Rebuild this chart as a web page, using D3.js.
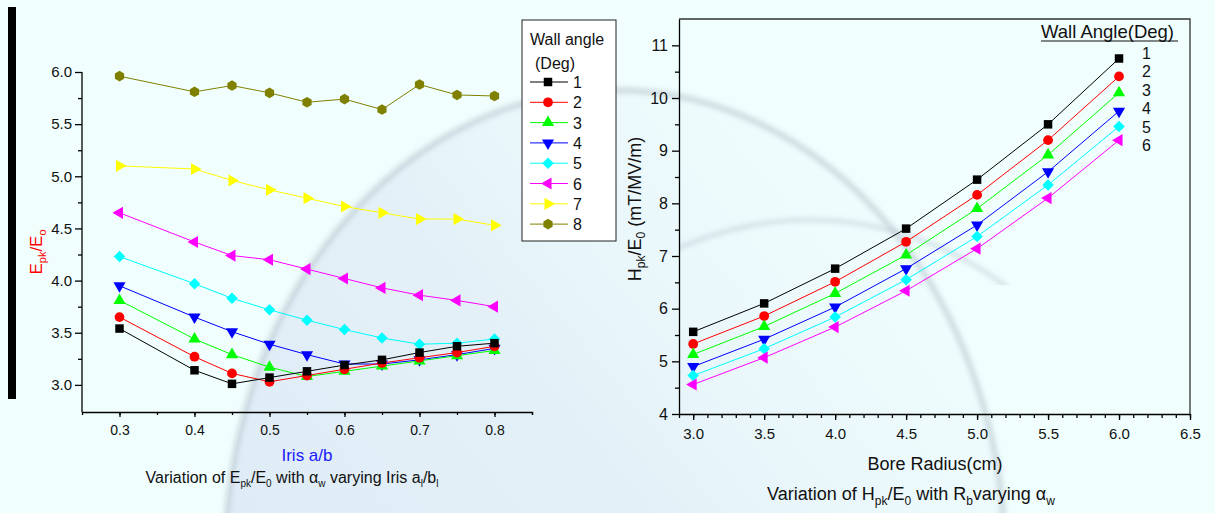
<!DOCTYPE html>
<html>
<head>
<meta charset="utf-8">
<script src="https://cdn.jsdelivr.net/npm/d3@7"></script>
<style>
body { margin: 0; background: #f0fefe; }
svg { display: block; font-family: 'Liberation Sans', Arial, sans-serif; }
</style>
</head>
<body>
<div id="chart"></div>
<script>
// left panel: Epk/E0 vs iris a/b, one series per wall angle
var leftX = [0.3, 0.4, 0.45, 0.5, 0.55, 0.6, 0.65, 0.7, 0.75, 0.8];
var ep1 = [3.54, 3.14, 3.01, 3.07, 3.13, 3.19, 3.24, 3.31, 3.37, 3.40];
var ep2 = [3.65, 3.27, 3.11, 3.03, 3.09, 3.15, 3.21, 3.26, 3.31, 3.37];
var ep3 = [3.81, 3.44, 3.29, 3.17, 3.08, 3.13, 3.18, 3.23, 3.28, 3.33];
var ep4 = [3.95, 3.65, 3.51, 3.39, 3.29, 3.20, 3.20, 3.24, 3.29, 3.35];
var ep5 = [4.23, 3.97, 3.83, 3.72, 3.62, 3.53, 3.45, 3.39, 3.40, 3.44];
var ep6 = [4.65, 4.37, 4.24, 4.20, 4.11, 4.02, 3.93, 3.86, 3.81, 3.75];
var ep7 = [5.10, 5.07, 4.96, 4.87, 4.79, 4.71, 4.65, 4.59, 4.59, 4.53];
var ep8 = [5.96, 5.81, 5.87, 5.80, 5.71, 5.74, 5.64, 5.88, 5.78, 5.77];
var leftNames = ['1', '2', '3', '4', '5', '6', '7', '8'];
var leftXTicks = [0.3, 0.4, 0.5, 0.6, 0.7, 0.8];
var leftYTicks = [3.0, 3.5, 4.0, 4.5, 5.0, 5.5, 6.0];

// right panel: Hpk/E0 vs bore radius
var rightX = [3.0, 3.5, 4.0, 4.5, 5.0, 5.5, 6.0];
var hp1 = [5.56, 6.10, 6.76, 7.52, 8.45, 9.50, 10.75];
var hp2 = [5.33, 5.86, 6.51, 7.27, 8.16, 9.20, 10.41];
var hp3 = [5.13, 5.66, 6.29, 7.02, 7.90, 8.92, 10.10];
var hp4 = [4.90, 5.42, 6.03, 6.76, 7.59, 8.60, 9.75];
var hp5 = [4.73, 5.24, 5.84, 6.55, 7.37, 8.35, 9.46];
var hp6 = [4.56, 5.07, 5.65, 6.34, 7.14, 8.10, 9.20];
var rightNames = ['1', '2', '3', '4', '5', '6'];
var rightXTicks = [3.0, 3.5, 4.0, 4.5, 5.0, 5.5, 6.0, 6.5];
var rightYTicks = [4, 5, 6, 7, 8, 9, 10, 11];

var colors = ['#000000', '#ff0000', '#00ff00', '#0000ff', '#00ffff', '#ff00ff', '#ffff00', '#808000'];
var shapes = ['square', 'circle', 'up', 'down', 'diamond', 'left', 'right', 'hex'];

var W = 1215, H = 513;
var svg = d3.select('#chart').append('svg')
    .attr('width', W)
    .attr('height', H);

// faint background sphere
var defs = svg.append('defs');
defs.append('filter').attr('id', 'blur')
    .append('feGaussianBlur').attr('stdDeviation', 2.5);
defs.append('clipPath').attr('id', 'innerclip')
    .append('rect').attr('x', 680).attr('y', 195).attr('width', 330).attr('height', 90);
var grad = defs.append('linearGradient').attr('id', 'fade')
    .attr('x1', 0).attr('y1', 1).attr('x2', 1).attr('y2', 0);
grad.append('stop').attr('offset', '0%').attr('stop-color', '#d4e2f4').attr('stop-opacity', 0.8);
grad.append('stop').attr('offset', '55%').attr('stop-color', '#dbe7f3').attr('stop-opacity', 0.6);
grad.append('stop').attr('offset', '100%').attr('stop-color', '#f0fefe').attr('stop-opacity', 0);
svg.append('ellipse')
    .attr('cx', 615).attr('cy', 560).attr('rx', 390).attr('ry', 470)
    .attr('fill', 'url(#fade)');
svg.append('ellipse')
    .attr('cx', 615).attr('cy', 560).attr('rx', 390).attr('ry', 470)
    .attr('fill', 'none').attr('stroke', '#b8c6cf').attr('stroke-width', 6)
    .attr('opacity', 0.6).attr('filter', 'url(#blur)');
svg.append('ellipse')
    .attr('cx', 810).attr('cy', 560).attr('rx', 330).attr('ry', 340)
    .attr('clip-path', 'url(#innerclip)')
    .attr('fill', 'none').attr('stroke', '#bccad3').attr('stroke-width', 4)
    .attr('opacity', 0.6).attr('filter', 'url(#blur)');

svg.append('rect')
    .attr('x', 8).attr('y', 7).attr('width', 8).attr('height', 392)
    .attr('fill', '#000');

function symbolPath(shape) {
    var s;
    if (shape === 'square') s = d3.symbol(d3.symbolSquare, 72);
    else if (shape === 'circle') s = d3.symbol(d3.symbolCircle, 75);
    else if (shape === 'diamond') s = d3.symbol(d3.symbolSquare, 66);
    else if (shape === 'hex') {
        return d3.line()(d3.range(6).map(function(i) {
            var a = Math.PI / 6 + i * Math.PI / 3;
            return [5.3 * Math.cos(a), 5.3 * Math.sin(a)];
        })) + 'Z';
    }
    else s = d3.symbol(d3.symbolTriangle, 64);
    return s();
}
function symbolRotate(shape) {
    if (shape === 'down') return 180;
    if (shape === 'left') return -90;
    if (shape === 'right') return 90;
    if (shape === 'diamond') return 45;
    return 0;
}
function marker(g, i, x, y) {
    g.append('path')
        .attr('d', symbolPath(shapes[i]))
        .attr('transform', 'translate(' + x + ',' + y + ') rotate(' + symbolRotate(shapes[i]) + ')')
        .attr('fill', colors[i]);
}

function styleAxis(g, size) {
    g.select('.domain').attr('stroke', '#000').attr('stroke-width', 1.3);
    g.selectAll('.tick line').attr('stroke', '#000').attr('stroke-width', 1.3);
    g.selectAll('.tick text').attr('fill', '#111').style('font-size', size + 'px')
        .style('font-family', "'Liberation Sans', Arial, sans-serif");
}

// ---------- left panel ----------
var xL = d3.scaleLinear().domain([0.25, 0.85]).range([82, 532]);
var yL = d3.scaleLinear().domain([2.74, 6.0]).range([412, 72]);

var gxL = svg.append('g').attr('transform', 'translate(0,412)');
gxL.call(d3.axisBottom(xL).tickValues(d3.range(0.3, 0.86, 0.05)).tickSize(3).tickFormat(''));
styleAxis(gxL, 14);
var gxL2 = svg.append('g').attr('transform', 'translate(0,412)');
gxL2.call(d3.axisBottom(xL).tickValues(leftXTicks).tickSize(5).tickPadding(8).tickFormat(d3.format('.1f')));
gxL2.select('.domain').remove();
styleAxis(gxL2, 14);

var gyL = svg.append('g').attr('transform', 'translate(82,0)');
gyL.call(d3.axisLeft(yL).tickValues(d3.range(3.25, 6, 0.5)).tickSize(4).tickFormat('').tickSizeOuter(0));
gyL.select('.domain').attr('d', 'M0,' + yL(6.0) + 'V412');
styleAxis(gyL, 15);
var gyL2 = svg.append('g').attr('transform', 'translate(82,0)');
gyL2.call(d3.axisLeft(yL).tickValues(leftYTicks).tickSize(7).tickPadding(3).tickFormat(d3.format('.1f')));
gyL2.select('.domain').remove();
styleAxis(gyL2, 15);

var leftSeries = [ep1, ep2, ep3, ep4, ep5, ep6, ep7, ep8];
var lineL = d3.line()
    .x(function(d, i) { return xL(leftX[i]); })
    .y(function(d) { return yL(d); });
leftSeries.slice().reverse().forEach(function(vals, k) {
    var i = leftSeries.length - 1 - k;
    svg.append('path').datum(vals)
        .attr('d', lineL).attr('fill', 'none')
        .attr('stroke', colors[i]).attr('stroke-width', 1);
    vals.forEach(function(v, j) { marker(svg, i, xL(leftX[j]), yL(v)); });
});

svg.append('text')
    .attr('transform', 'translate(42,252) rotate(-90)')
    .attr('text-anchor', 'middle')
    .attr('fill', '#ff0000')
    .style('font-size', '17px')
    .html('E<tspan dy="4" font-size="11">pk</tspan><tspan dy="-4">/E</tspan><tspan dy="4" font-size="11">o</tspan>');

svg.append('text')
    .attr('x', 307).attr('y', 461)
    .attr('text-anchor', 'middle')
    .attr('fill', '#1a1aff')
    .style('font-size', '17px')
    .text('Iris a/b');

svg.append('text')
    .attr('x', 292).attr('y', 483)
    .attr('text-anchor', 'middle')
    .attr('fill', '#111')
    .style('font-size', '16px')
    .html('Variation of E<tspan dy="4" font-size="10">pk</tspan><tspan dy="-4">/E</tspan><tspan dy="4" font-size="10">0</tspan><tspan dy="-4"> with \u03b1</tspan><tspan dy="4" font-size="10">w</tspan><tspan dy="-4"> varying Iris a</tspan><tspan dy="4" font-size="10">l</tspan><tspan dy="-4">/b</tspan><tspan dy="4" font-size="10">l</tspan>');

// legend box
var leg = svg.append('g');
leg.append('rect')
    .attr('x', 522).attr('y', 20).attr('width', 94).attr('height', 221)
    .attr('fill', '#fff').attr('stroke', '#222').attr('stroke-width', 1);
leg.append('text').attr('x', 530).attr('y', 45).style('font-size', '16px').attr('fill', '#111').text('Wall angle');
leg.append('text').attr('x', 535).attr('y', 69).style('font-size', '16px').attr('fill', '#111').text('(Deg)');
leftNames.forEach(function(name, i) {
    var yy = 82 + i * 20.3;
    leg.append('line')
        .attr('x1', 530).attr('x2', 568).attr('y1', yy).attr('y2', yy)
        .attr('stroke', colors[i]).attr('stroke-width', 1);
    marker(leg, i, 548, yy);
    leg.append('text').attr('x', 573).attr('y', yy + 6)
        .style('font-size', '16px').attr('fill', '#111').text(name);
});

// ---------- right panel ----------
var xR = d3.scaleLinear().domain([2.9, 6.5]).range([679, 1190]);
var yR = d3.scaleLinear().domain([4, 11.5]).range([414, 19]);

svg.append('path')
    .attr('d', 'M679,19H1190V414')
    .attr('fill', 'none').attr('stroke', '#333').attr('stroke-width', 1.3);

var gxR = svg.append('g').attr('transform', 'translate(0,414)');
gxR.call(d3.axisBottom(xR).tickValues(d3.range(2.9, 6.51, 0.1)).tickSize(4).tickFormat('').tickSizeOuter(0));
styleAxis(gxR, 15);
var gxR2 = svg.append('g').attr('transform', 'translate(0,414)');
gxR2.call(d3.axisBottom(xR).tickValues(rightXTicks).tickSize(6).tickPadding(8).tickFormat(d3.format('.1f')));
gxR2.select('.domain').remove();
styleAxis(gxR2, 15);

var gyR = svg.append('g').attr('transform', 'translate(679,0)');
gyR.call(d3.axisLeft(yR).tickValues(d3.range(4.5, 11.5, 1)).tickSize(4).tickFormat('').tickSizeOuter(0));
styleAxis(gyR, 16);
var gyR2 = svg.append('g').attr('transform', 'translate(679,0)');
gyR2.call(d3.axisLeft(yR).tickValues(rightYTicks).tickSize(7).tickPadding(4).tickFormat(d3.format('d')));
gyR2.select('.domain').remove();
styleAxis(gyR2, 16);

var rightSeries = [hp1, hp2, hp3, hp4, hp5, hp6];
var lineR = d3.line()
    .x(function(d, i) { return xR(rightX[i]); })
    .y(function(d) { return yR(d); });
rightSeries.forEach(function(vals, i) {
    svg.append('path').datum(vals)
        .attr('d', lineR).attr('fill', 'none')
        .attr('stroke', colors[i]).attr('stroke-width', 1);
    vals.forEach(function(v, j) { marker(svg, i, xR(rightX[j]), yR(v)); });
});

svg.append('text')
    .attr('x', 1041).attr('y', 38)
    .style('font-size', '18.5px').attr('fill', '#111')
    .text('Wall Angle(Deg)');
svg.append('line')
    .attr('x1', 1041).attr('x2', 1178).attr('y1', 41).attr('y2', 41)
    .attr('stroke', '#111').attr('stroke-width', 1.2);
var rightLabelY = [58.5, 77, 95.5, 114, 132.5, 151];
rightNames.forEach(function(name, i) {
    svg.append('text')
        .attr('x', 1142).attr('y', rightLabelY[i])
        .style('font-size', '16px').attr('fill', '#111')
        .text(name);
});

svg.append('text')
    .attr('transform', 'translate(641,209) rotate(-90)')
    .attr('text-anchor', 'middle')
    .attr('fill', '#111')
    .style('font-size', '18px')
    .html('H<tspan dy="4" font-size="12">pk</tspan><tspan dy="-4">/E</tspan><tspan dy="4" font-size="12">0</tspan><tspan dy="-4"> (mT/MV/m)</tspan>');

svg.append('text')
    .attr('x', 935).attr('y', 470)
    .attr('text-anchor', 'middle')
    .attr('fill', '#111')
    .style('font-size', '18px')
    .text('Bore Radius(cm)');

svg.append('text')
    .attr('x', 911).attr('y', 500)
    .attr('text-anchor', 'middle')
    .attr('fill', '#111')
    .style('font-size', '18px')
    .html('Variation of H<tspan dy="5" font-size="12">pk</tspan><tspan dy="-5">/E</tspan><tspan dy="5" font-size="12">0</tspan><tspan dy="-5"> with R</tspan><tspan dy="5" font-size="12">b</tspan><tspan dy="-5">varying \u03b1</tspan><tspan dy="5" font-size="12">w</tspan>');
</script>
</body>
</html>
